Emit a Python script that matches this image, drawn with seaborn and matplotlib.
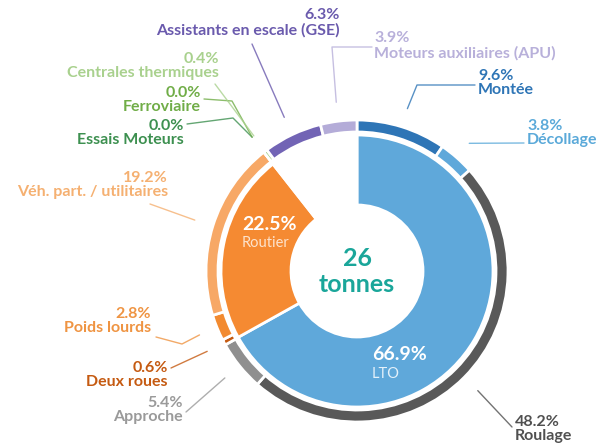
import matplotlib.pyplot as plt
import seaborn as sns
import numpy as np

sns.set_theme(style="white")
plt.rcParams['font.family'] = ['Lato', 'DejaVu Sans']

# inner ring: main groups
inner_labels = ["LTO", "Routier", "Autres"]
inner_values = [66.9, 22.5, 10.6]
inner_colors = ["#5fa8da", "#f58a32", "none"]

# outer ring: detail, clockwise from 12 o'clock
outer_labels = ["Montée", "Décollage", "Roulage", "Approche", "Deux roues",
                "Poids lourds", "Véh. part. / utilitaires", "Essais Moteurs",
                "Ferroviaire", "Centrales thermiques", "Assistants en escale (GSE)",
                "Moteurs auxiliaires (APU)"]
outer_values = [9.6, 3.8, 48.2, 5.4, 0.6, 2.8, 19.2, 0.0, 0.0, 0.4, 6.3, 3.9]
outer_colors = ["#2e75b6", "#5fa8da", "#595959", "#8f8f8f", "#c55a11",
                "#f28a30", "#f7a866", "#3d9050", "#70ad47", "#a9d18e",
                "#7264b5", "#b4acd8"]
text_colors = ["#2e75b6", "#5aa9d9", "#505050", "#9a9a9a", "#c55a11",
               "#ef9442", "#f5b071", "#3d9050", "#70ad47", "#a9d18e",
               "#6a5aad", "#b8b0da"]

# label placement (pixel coords, y from top): x, y, ha, elbow points
label_pos = {
    "Montée": (478, 83, "left", [(417, 85), (475, 85)]),
    "Décollage": (527, 133, "left", [(524, 143)]),
    "Roulage": (515, 429, "left", [(512, 427)]),
    "Approche": (183, 410, "right", [(186, 412)]),
    "Deux roues": (168, 375, "right", [(171, 368)]),
    "Poids lourds": (151, 321, "right", [(182, 344), (156, 337)]),
    "Véh. part. / utilitaires": (168, 185, "right", [(150, 204)]),
    "Essais Moteurs": (184, 133, "right", [(233, 118), (187, 124)]),
    "Ferroviaire": (201, 100, "right", [(232, 101), (204, 99)]),
    "Centrales thermiques": (219, 66, "right", [(215, 84)]),
    "Assistants en escale (GSE)": (340, 23, "right", [(252, 44)]),
    "Moteurs auxiliaires (APU)": (374, 46, "left", [(332, 47), (372, 47)]),
}

W, H = 600, 447
cx, cy = 357, H - 271
R = 151

fig = plt.figure(figsize=(6, 4.47), dpi=100)
ax = fig.add_axes([0, 0, 1, 1])

ax.pie(outer_values, colors=outer_colors, radius=R, center=(cx, cy),
       startangle=90, counterclock=False,
       wedgeprops=dict(width=12, edgecolor="white", linewidth=2))
ax.pie(inner_values, colors=inner_colors, radius=R - 15, center=(cx, cy),
       startangle=90, counterclock=False,
       wedgeprops=dict(width=70, edgecolor="white", linewidth=2))

ax.set_xlim(0, W)
ax.set_ylim(0, H)
ax.set_aspect("equal")
ax.axis("off")

total = sum(outer_values)
cum = np.cumsum([0] + outer_values)
for i, name in enumerate(outer_labels):
    mid = (cum[i] + outer_values[i] / 2) / total * 2 * np.pi
    sx = cx + 170 * np.sin(mid)
    sy = cy + 170 * np.cos(mid)
    tx, ty, ha, pts = label_pos[name]
    xs = [sx] + [p[0] for p in pts]
    ys = [sy] + [H - p[1] for p in pts]
    ax.plot(xs, ys, color=text_colors[i], lw=1, alpha=0.8)
    ax.text(tx, H - ty, f"{outer_values[i]:.1f}%\n{name}", ha=ha, va="center",
            multialignment=ha, color=text_colors[i], fontsize=11.5,
            fontweight="bold", linespacing=1.05)

# inner labels
ax.text(242, H - 225, f"{inner_values[1]:.1f}%", color="white", fontsize=14,
        fontweight="bold", ha="left", va="center")
ax.text(242, H - 243, inner_labels[1], color="#fde3cc", fontsize=10.5,
        ha="left", va="center")
ax.text(372, H - 355, f"{inner_values[0]:.1f}%", color="white", fontsize=14,
        fontweight="bold", ha="left", va="center")
ax.text(372, H - 374, inner_labels[0], color="#e4f1fa", fontsize=10.5,
        ha="left", va="center")

ax.text(cx, cy + 13, "26", color="#1aa69a", fontsize=18, fontweight="bold",
        ha="center", va="center")
ax.text(cx, cy - 13, "tonnes", color="#1aa69a", fontsize=18, fontweight="bold",
        ha="center", va="center")

fig.savefig("out.png", dpi=100, facecolor="white")
plt.close()
